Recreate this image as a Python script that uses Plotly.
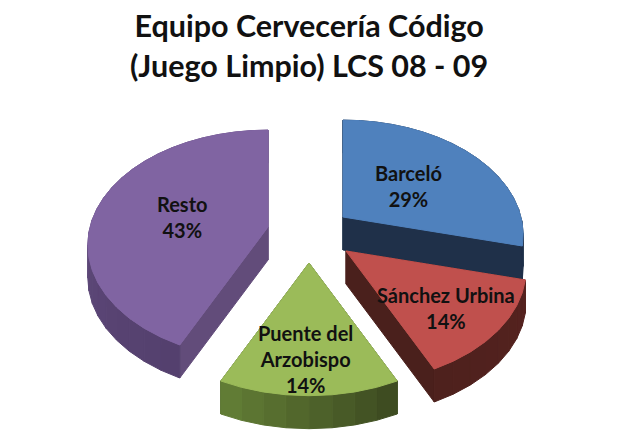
import numpy as np
import plotly.graph_objects as go

names = ['Barceló', 'Sánchez Urbina', 'Puente del Arzobispo', 'Resto']
label_lines = ['Barceló', 'Sánchez Urbina', 'Puente del<br>Arzobispo', 'Resto']
percents = [29, 14, 14, 43]
title_lines = ['Equipo Cervecería Código', '(Juego Limpio) LCS 08 - 09']

# where each slice's tip ended up after the explosion, in page pixels
tips_x = [343, 346, 309, 268]
tips_y = [217, 251, 263, 227]
label_x = [408, 446, 305, 182]
label_y = [186, 308, 359, 217]
top_colors = ['#4f81bd', '#c0504d', '#9bbb59', '#8064a2']
wall_colors = ['#1f3049', '#4a201c', '#3f4d22', '#624c7a']
arc_start_colors = ['#1f3049', '#55221f', '#3e4c21', '#54406e']
arc_end_colors = ['#1f3049', '#4e211d', '#617c35', '#6c5489']

# perspective of the tilted disc, fitted on the picture
RX = 178
RY = 112
K = 0.156
DEPTH = 33
PAGE_MARGIN = 8  # the browser puts the figure 8px in from the corner


def project(theta):
    u, v = np.sin(theta), np.cos(theta)
    s = 1 / (1 + K * v)
    return RX * u * s, -RY * v * s


def mix(c1, c2, t):
    a = [int(c1[i:i + 2], 16) for i in (1, 3, 5)]
    b = [int(c2[i:i + 2], 16) for i in (1, 3, 5)]
    return 'rgb(%d,%d,%d)' % tuple(round(p + (q - p) * t) for p, q in zip(a, b))


def poly(fig, xs, ys, color):
    fig.add_trace(go.Scatter(x=list(xs) + [xs[0]], y=list(ys) + [ys[0]], mode='lines', fill='toself',
                             fillcolor=color, line=dict(color=color, width=1),
                             hoverinfo='skip', showlegend=False))


fig = go.Figure()
edges = np.cumsum([0] + percents) / sum(percents) * 2 * np.pi
for i in [0, 3, 1, 2]:
    a0, a1 = edges[i], edges[i + 1]
    tx, ty = tips_x[i], tips_y[i]
    angles = np.linspace(a0, a1, max(int((a1 - a0) / np.radians(6)), 2) + 1)
    px, py = project(angles)
    px, py = px + tx, py + ty
    # the two straight walls
    for j in (0, -1):
        poly(fig, [tx, px[j], px[j], tx], [ty, py[j], py[j] + DEPTH, ty + DEPTH], wall_colors[i])
    # rounded outside wall, one band per step
    for j in range(len(angles) - 1):
        c = mix(arc_start_colors[i], arc_end_colors[i], j / max(len(angles) - 2, 1))
        poly(fig, [px[j], px[j + 1], px[j + 1], px[j]],
             [py[j], py[j + 1], py[j + 1] + DEPTH, py[j] + DEPTH], c)
    poly(fig, [tx] + list(px), [ty] + list(py), top_colors[i])

for i, name in enumerate(names):
    fig.add_annotation(x=label_x[i], y=label_y[i], text='%s<br>%d%%' % (label_lines[i], percents[i]),
                       showarrow=False, font=dict(family='Lato', size=20, color='#111111', weight=700))

fig.add_annotation(x=309, y=45, text='<br>'.join(title_lines), showarrow=False,
                   font=dict(family='Lato', size=30.5, color='#111111', weight=700))

fig.update_layout(
    width=619, height=439,
    margin=dict(l=0, r=0, t=0, b=0),
    paper_bgcolor='white', plot_bgcolor='white',
    xaxis=dict(range=[PAGE_MARGIN, 619 + PAGE_MARGIN], visible=False, fixedrange=True),
    yaxis=dict(range=[439 + PAGE_MARGIN, PAGE_MARGIN], visible=False, fixedrange=True),
)
fig.write_html("out.html")
